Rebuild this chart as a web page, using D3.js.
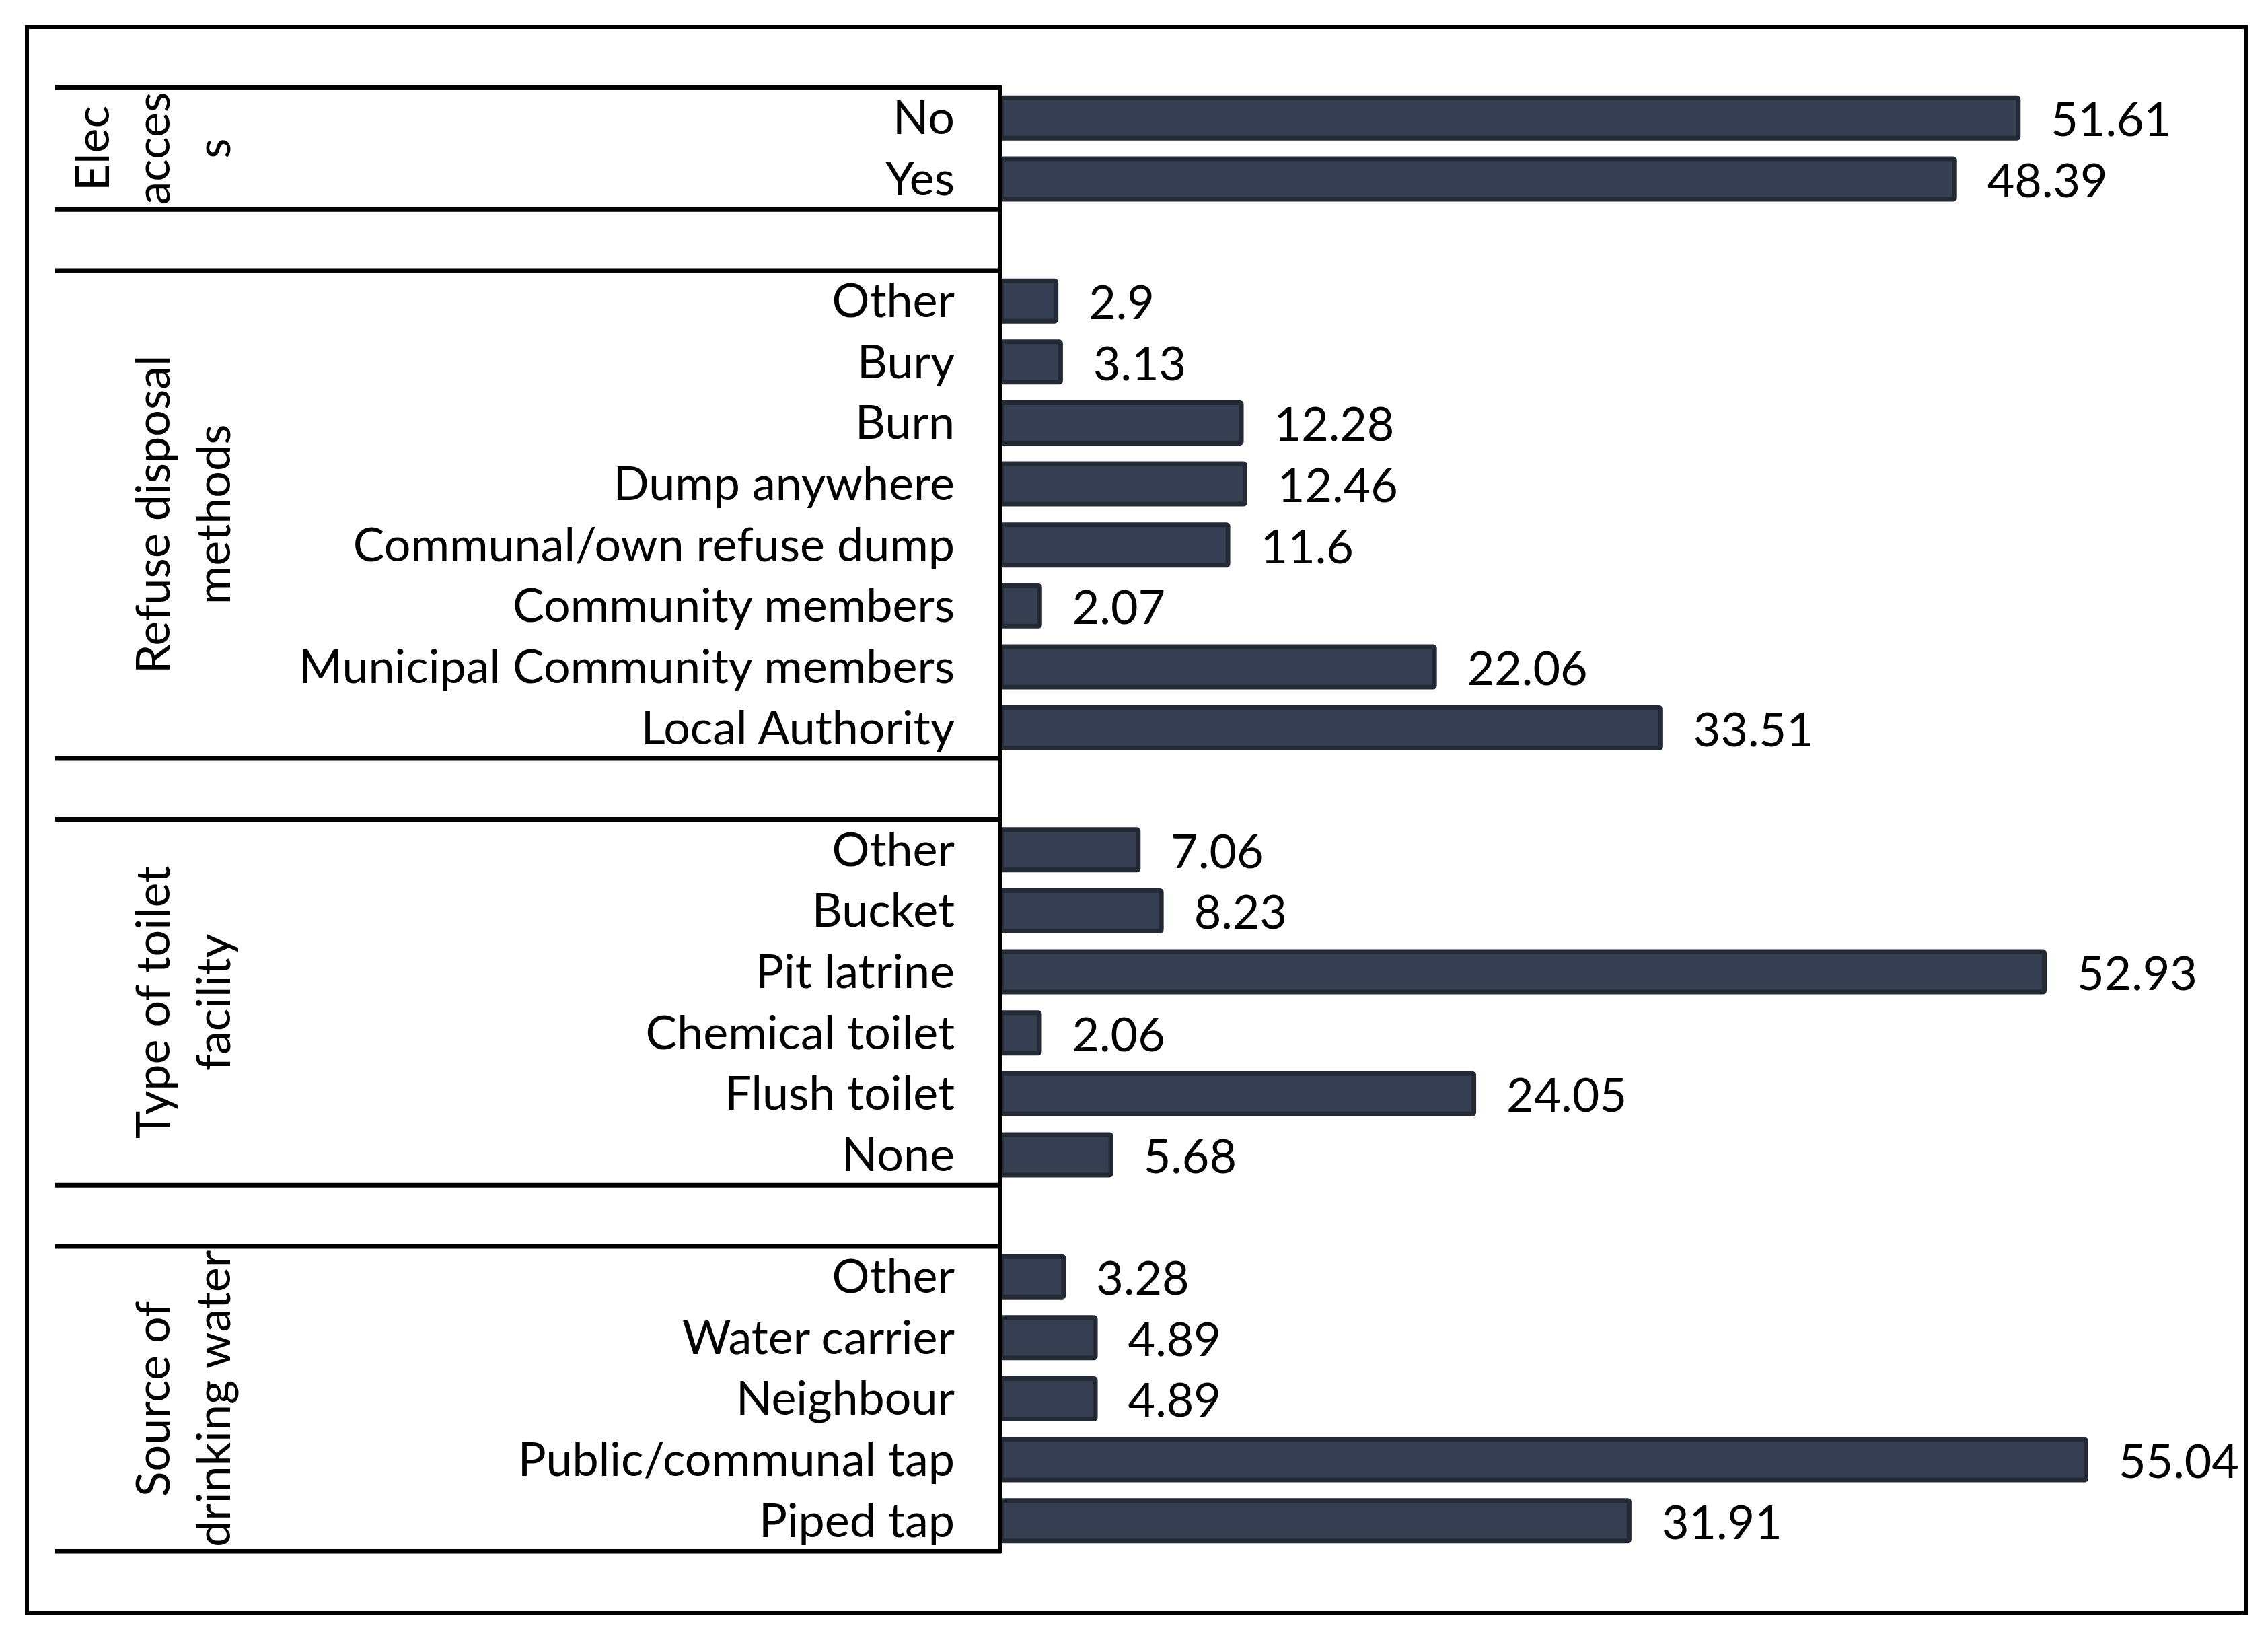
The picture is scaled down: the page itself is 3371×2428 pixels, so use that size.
<!DOCTYPE html>
<html>
<head>
<meta charset="utf-8">
<script src="https://cdn.jsdelivr.net/npm/d3@7"></script>
<style>
  html, body { margin: 0; padding: 0; background: white; }
  text { font-family: Lato, "Open Sans", sans-serif; fill: #000; }
</style>
</head>
<body>
<div id="wrapper"></div>
<script>
// group titles, wrapped the way the original cell wraps them
const groupLines = [
    ["Elec", "acces", "s"],
    ["Refuse disposal", "methods"],
    ["Type of toilet", "facility"],
    ["Source of", "drinking water"]
];

const elecCats   = ["No", "Yes"];
const elecValues = [51.61, 48.39];

const refuseCats   = ["Other", "Bury", "Burn", "Dump anywhere", "Communal/own refuse dump",
                      "Community members", "Municipal Community members", "Local Authority"];
const refuseValues = [2.9, 3.13, 12.28, 12.46, 11.6, 2.07, 22.06, 33.51];

const toiletCats   = ["Other", "Bucket", "Pit latrine", "Chemical toilet", "Flush toilet", "None"];
const toiletValues = [7.06, 8.23, 52.93, 2.06, 24.05, 5.68];

const waterCats   = ["Other", "Water carrier", "Neighbour", "Public/communal tap", "Piped tap"];
const waterValues = [3.28, 4.89, 4.89, 55.04, 31.91];

const xDomain = [0, 60];

const W = 3371, H = 2428;
const tableLeft = 82, axisX = 1488;
const plotTop = 130, plotBottom = 2305;
const fs = 70;

const groupCats   = [elecCats, refuseCats, toiletCats, waterCats];
const groupValues = [elecValues, refuseValues, toiletValues, waterValues];

// build the row list, one empty row between groups
var rows = [], keys = [];
groupCats.forEach(function(cats, g){
    if (g > 0) keys.push("gap" + g);
    cats.forEach(function(c, i){
        var k = g + "|" + c;
        keys.push(k);
        rows.push({key: k, group: g, label: c, value: groupValues[g][i]});
    });
});

const svg = d3.select("#wrapper")
    .append("svg")
    .attr("width", W)
    .attr("height", H);

svg.append("rect")
    .attr("x", 0).attr("y", 0).attr("width", W).attr("height", H)
    .attr("fill", "white");

// outer frame
svg.append("rect")
    .attr("x", 40).attr("y", 40)
    .attr("width", 3338 - 40).attr("height", 2397 - 40)
    .attr("fill", "none")
    .attr("stroke", "#000")
    .attr("stroke-width", 6);

var y = d3.scaleBand()
    .domain(keys)
    .range([plotTop, plotBottom])
    .paddingInner(0.26)
    .paddingOuter(0.13);

var x = d3.scaleLinear()
    .domain(xDomain)
    .range([axisX, axisX + 60 * 29.36]);

const step = y.step();
const off = (step - y.bandwidth()) / 2;
const sw = 7;

// bars
svg.append("g")
    .selectAll("rect")
    .data(rows)
    .enter()
    .append("rect")
    .attr("x", x(0))
    .attr("y", d => y(d.key) + sw / 2)
    .attr("width", d => x(d.value) - x(0) - sw / 2)
    .attr("height", y.bandwidth() - sw)
    .attr("rx", 2)
    .attr("fill", "#353f51")
    .attr("stroke", "#242a35")
    .attr("stroke-width", sw);

// value labels
svg.append("g")
    .selectAll("text")
    .data(rows)
    .enter()
    .append("text")
    .attr("x", d => x(d.value) + 45)
    .attr("y", d => y(d.key) + y.bandwidth() / 2 + 27)
    .attr("font-size", fs)
    .text(d => d.value);

// category labels
svg.append("g")
    .selectAll("text")
    .data(rows)
    .enter()
    .append("text")
    .attr("x", 1419)
    .attr("y", d => y(d.key) + y.bandwidth() / 2 + 24)
    .attr("text-anchor", "end")
    .attr("font-size", fs)
    .text(d => d.label);

// table lines: top and bottom of every group
var hline = yy => svg.append("line")
    .attr("x1", tableLeft).attr("x2", axisX)
    .attr("y1", yy).attr("y2", yy)
    .attr("stroke", "#000")
    .attr("stroke-width", 7);

groupCats.forEach(function(cats, g){
    var first = g + "|" + cats[0];
    var last = g + "|" + cats[cats.length - 1];
    var gTop = y(first) - off;
    var gBot = y(last) + y.bandwidth() + off;
    hline(gTop);
    hline(gBot);

    // rotated group title
    var cy = (gTop + gBot) / 2;
    var n = groupLines[g].length;
    groupLines[g].forEach(function(t, i){
        var bx = 342 - (n - 1 - i) * 90;
        svg.append("text")
            .attr("transform", "translate(" + bx + "," + cy + ") rotate(-90)")
            .attr("text-anchor", "middle")
            .attr("font-size", fs)
            .text(t);
    });
});

// vertical axis line
svg.append("line")
    .attr("x1", axisX - 2).attr("x2", axisX - 2)
    .attr("y1", plotTop - 3).attr("y2", plotBottom + 3)
    .attr("stroke", "#000")
    .attr("stroke-width", 6);
</script>
</body>
</html>
